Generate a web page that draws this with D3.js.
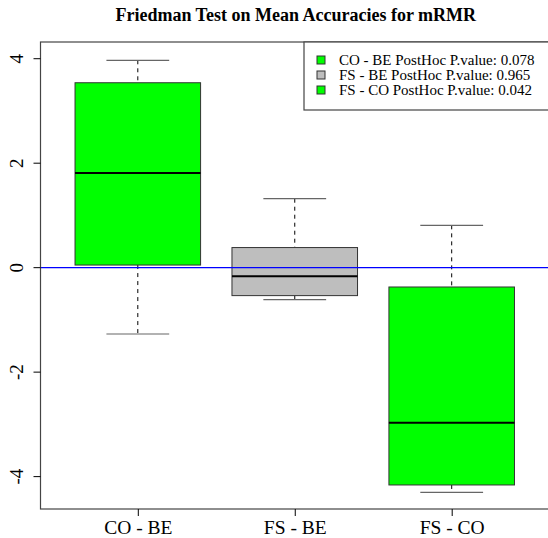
<!DOCTYPE html>
<html>
<head>
<meta charset="utf-8">
<script src="https://cdn.jsdelivr.net/npm/d3@7"></script>
<style>
  body { margin: 0; background: #fff; }
  svg text { font-family: "Liberation Serif", "Times New Roman", serif; fill: #000; }
</style>
</head>
<body>
<div id="chart"></div>
<script>
// comparisons and their five-number summaries
const groups = ["CO - BE", "FS - BE", "FS - CO"];
const lowWhisker = [-1.27, -0.61, -4.30];
const q1 = [0.05, -0.535, -4.16];
const median = [1.81, -0.165, -2.97];
const q3 = [3.54, 0.385, -0.37];
const highWhisker = [3.97, 1.32, 0.81];
const fills = ["#00ff00", "#bebebe", "#00ff00"];
const pValues = ["0.078", "0.965", "0.042"];
const yTicks = [-4, -2, 0, 2, 4];

const width = 548, height = 538;
const margin = { top: 42, right: -1, bottom: 29, left: 40.5 };

let svg = d3.select("#chart").append("svg")
  .attr("width", width)
  .attr("height", height);

// R style: positions 1..n, xlim 0.5..n+0.5 extended by 4%
let x = d3.scaleLinear()
  .domain([0.38, groups.length + 0.62])
  .range([margin.left, width - margin.right]);

let y = d3.scaleLinear()
  .domain([-4.62, 4.32])
  .range([height - margin.bottom, margin.top]);

let step = x(2) - x(1);
let boxW = step * 0.8;
let capW = boxW * 0.5;

let boxes = groups.map((g, i) => ({
  name: g, pos: i + 1, lo: lowWhisker[i], q1: q1[i], med: median[i],
  q3: q3[i], hi: highWhisker[i], fill: fills[i], p: pValues[i]
}));

// title
svg.append("text")
  .attr("x", (x.range()[0] + x.range()[1]) / 2 + 1)
  .attr("y", 21)
  .attr("text-anchor", "middle")
  .style("font-size", "18px")
  .style("font-weight", "bold")
  .text("Friedman Test on Mean Accuracies for mRMR");

let g = svg.append("g");

boxes.forEach(b => {
  let cx = x(b.pos);
  // whiskers
  g.append("line")
    .attr("x1", cx).attr("x2", cx)
    .attr("y1", y(b.hi)).attr("y2", y(b.q3))
    .attr("stroke", "#000").attr("stroke-dasharray", "4,4");
  g.append("line")
    .attr("x1", cx).attr("x2", cx)
    .attr("y1", y(b.q1)).attr("y2", y(b.lo))
    .attr("stroke", "#000").attr("stroke-dasharray", "4,4");
  // staples
  [b.hi, b.lo].forEach(v => {
    g.append("line")
      .attr("x1", cx - capW / 2).attr("x2", cx + capW / 2)
      .attr("y1", y(v)).attr("y2", y(v))
      .attr("stroke", "#666").attr("stroke-width", 1.2);
  });
  // box
  g.append("rect")
    .attr("x", cx - boxW / 2)
    .attr("width", boxW)
    .attr("y", y(b.q3))
    .attr("height", y(b.q1) - y(b.q3))
    .attr("fill", b.fill)
    .attr("stroke", "#333").attr("stroke-width", 1);
  // median
  g.append("line")
    .attr("x1", cx - boxW / 2).attr("x2", cx + boxW / 2)
    .attr("y1", y(b.med)).attr("y2", y(b.med))
    .attr("stroke", "#000").attr("stroke-width", 2);
});

// zero reference line
svg.append("line")
  .attr("x1", x.range()[0]).attr("x2", width)
  .attr("y1", y(0)).attr("y2", y(0))
  .style("stroke", "#0000ff").attr("stroke-width", 1.3);

// plot frame
svg.append("rect")
  .attr("x", x.range()[0])
  .attr("y", margin.top)
  .attr("width", x.range()[1] - x.range()[0])
  .attr("height", y.range()[0] - margin.top)
  .attr("fill", "none")
  .attr("stroke", "#444").attr("stroke-width", 1.2);

// y axis
let yAxis = svg.append("g")
  .attr("transform", `translate(${x.range()[0]},0)`)
  .call(d3.axisLeft(y).tickValues(yTicks).tickSize(7).tickFormat(d => String(d)));
yAxis.select(".domain").remove();
yAxis.selectAll(".tick").attr("transform", null);
yAxis.selectAll(".tick line")
  .attr("stroke", "#000")
  .attr("y1", d => y(d)).attr("y2", d => y(d))
  .attr("x1", 0).attr("x2", -7);
yAxis.selectAll(".tick text")
  .attr("x", 0).attr("y", 0).attr("dy", null)
  .attr("transform", d => `translate(-18,${y(d)}) rotate(-90)`)
  .attr("text-anchor", "middle")
  .style("font-size", "19px");

// x axis
let xAxis = svg.append("g")
  .attr("transform", `translate(0,${y.range()[0]})`)
  .call(d3.axisBottom(x).tickValues([1, 2, 3]).tickSize(7)
    .tickFormat(d => groups[d - 1]));
xAxis.select(".domain").remove();
xAxis.selectAll("line").attr("stroke", "#000");
xAxis.selectAll("text")
  .attr("y", 24.5).attr("dy", null)
  .style("font-size", "19.5px");

// legend
let lg = svg.append("g");
lg.append("rect")
  .attr("x", 304).attr("y", margin.top)
  .attr("width", width - 304 + 2).attr("height", 68)
  .attr("fill", "#fff")
  .attr("stroke", "#444").attr("stroke-width", 1.2);
boxes.forEach((b, i) => {
  let ly = 60 + i * 15;
  lg.append("rect")
    .attr("x", 317).attr("y", ly - 4)
    .attr("width", 8).attr("height", 8)
    .attr("fill", b.fill)
    .attr("stroke", "#333").attr("stroke-width", 1);
  lg.append("text")
    .attr("x", 339).attr("y", ly + 5)
    .style("font-size", "15px")
    .text(`${b.name} PostHoc P.value: ${b.p}`);
});
</script>
</body>
</html>
